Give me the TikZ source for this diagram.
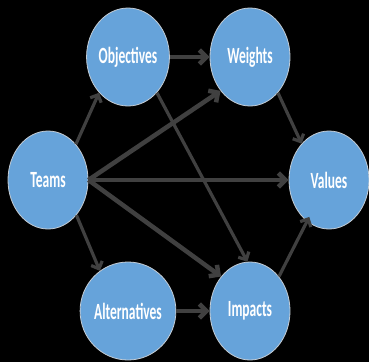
\documentclass[tikz,border=0pt]{standalone}
\usepackage{fontspec}
\setmainfont{Carlito}
\usepackage{graphicx}
\usetikzlibrary{arrows.meta, positioning, shapes.geometric}

\definecolor{bubble}{HTML}{66A3DA}
\definecolor{rim}{HTML}{C4CCD4}
\definecolor{link}{HTML}{404040}
\newcommand{\tall}[1]{\scalebox{1}[1.72]{\bfseries #1}}

\begin{document}
\begin{tikzpicture}[x=1pt, y=-1pt,
        factor/.style={ellipse, fill=bubble, draw=rim, line width=0.8pt,
            minimum width=80pt, minimum height=98pt, inner sep=0pt,
            text=white, font=\fontsize{13.5}{14}\selectfont},
        flow/.style={draw=link, line width=4.5pt,
            -{Straight Barb[length=7pt, width=14pt]}},
        thinflow/.style={flow, line width=3.2pt,
            -{Straight Barb[length=6pt, width=12pt]}}]
        % black backdrop
        \fill[black] (0,0) rectangle (369,362);
        \useasboundingbox (0,0) rectangle (369,362);
        % the six factors
        \node[factor] (teams) at (48,180) {\tall{Teams}};
        \node[factor] (obj) at (128,57) {\tall{Objectives}};
        \node[factor] (alt) at (128,311) {\tall{Alternatives}};
        \node[factor] (wts) at (250,57) {\tall{Weights}};
        \node[factor] (imp) at (250,311) {\tall{Impacts}};
        \node[factor] (val) at (329,180) {\tall{Values}};
        % links between factors
        \draw[thinflow] (teams.52) -- (obj.-129);
        \draw[thinflow] (teams.-51) -- (alt.125);
        \draw[flow] (teams.east) -- (wts.-131);
        \draw[flow] (teams.east) -- (val.west);
        \draw[flow] (teams.east) -- (imp.130);
        \draw[flow] (obj.east) -- (wts.west);
        \draw[thinflow] (obj.-51) -- (imp.93);
        \draw[flow] (alt.east) -- (imp.west);
        \draw[thinflow] (wts.-52) -- (val.127);
        \draw[thinflow, shorten >=-5pt] (imp.50) -- (val.-118);
    \end{tikzpicture}
\end{document}
